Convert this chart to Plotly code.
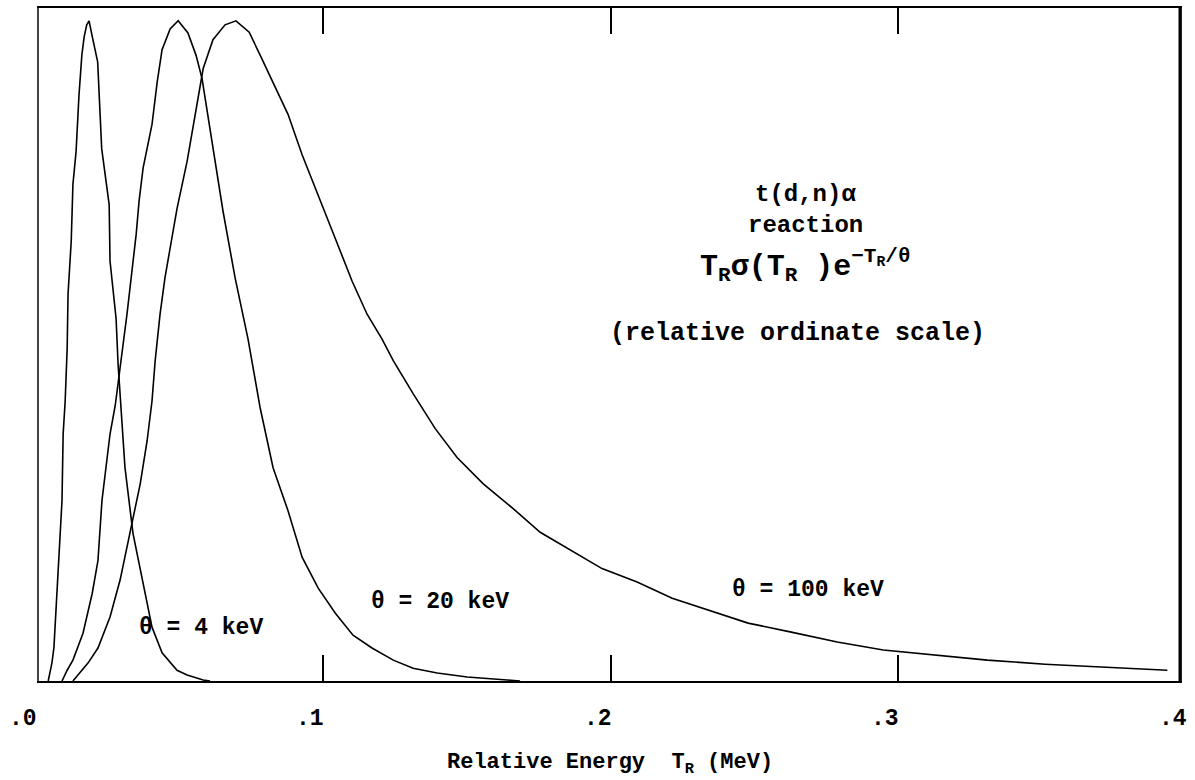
import plotly.graph_objects as go

# theta = 4 keV
x4 = [0.0044, 0.0057, 0.0064, 0.0075, 0.0085, 0.0092, 0.0096, 0.0103, 0.0110, 0.0113,
      0.0124, 0.0130, 0.0141, 0.0151, 0.0161, 0.0169, 0.0178, 0.0186, 0.0199, 0.0216,
      0.0230, 0.0256, 0.0259, 0.0280, 0.0287, 0.0297, 0.0311, 0.0339, 0.0374, 0.0405,
      0.0440, 0.0492, 0.0527, 0.0583, 0.0607]
y4 = [0.0, 0.027, 0.050, 0.139, 0.219, 0.268, 0.367, 0.416, 0.495, 0.575,
      0.653, 0.738, 0.787, 0.870, 0.930, 0.957, 0.975, 0.981, 0.954, 0.920,
      0.791, 0.708, 0.624, 0.539, 0.471, 0.402, 0.317, 0.219, 0.145, 0.080,
      0.042, 0.016, 0.009, 0.0015, 0.0]

# theta = 20 keV
x20 = [0.0092, 0.0110, 0.0130, 0.0165, 0.0197, 0.0217, 0.0231, 0.0259, 0.0277, 0.0318,
       0.0350, 0.0360, 0.0374, 0.0405, 0.0423, 0.0440, 0.0468, 0.0496, 0.0530, 0.0558,
       0.0579, 0.0617, 0.0652, 0.0694, 0.0739, 0.0781, 0.0826, 0.0878, 0.0927, 0.0983,
       0.1042, 0.1104, 0.1170, 0.1244, 0.1313, 0.1397, 0.1501, 0.1640, 0.1685]
y20 = [0.0, 0.016, 0.031, 0.071, 0.130, 0.179, 0.268, 0.367, 0.409, 0.545,
       0.664, 0.713, 0.762, 0.827, 0.890, 0.938, 0.969, 0.981, 0.963, 0.930,
       0.895, 0.791, 0.698, 0.599, 0.508, 0.406, 0.317, 0.253, 0.184, 0.138,
       0.101, 0.068, 0.049, 0.031, 0.019, 0.012, 0.006, 0.0015, 0.0]

# theta = 100 keV
x100 = [0.0130, 0.0148, 0.0183, 0.0217, 0.0259, 0.0294, 0.0329, 0.0364, 0.0388, 0.0405,
        0.0416, 0.0433, 0.0450, 0.0468, 0.0492, 0.0527, 0.0537, 0.0583, 0.0617, 0.0659,
        0.0697, 0.0743, 0.0781, 0.0826, 0.0878, 0.0927, 0.0979, 0.1042, 0.1101, 0.1153,
        0.1205, 0.1244, 0.1313, 0.1390, 0.1466, 0.1557, 0.1661, 0.1755, 0.1970, 0.2092,
        0.2214, 0.2346, 0.2478, 0.2624, 0.2788, 0.2948, 0.3122, 0.3310, 0.3511, 0.3703,
        0.3936]
y100 = [0.0, 0.009, 0.027, 0.049, 0.095, 0.150, 0.219, 0.293, 0.357, 0.416,
        0.476, 0.545, 0.599, 0.643, 0.702, 0.772, 0.797, 0.910, 0.953, 0.975,
        0.981, 0.964, 0.930, 0.890, 0.842, 0.782, 0.727, 0.658, 0.594, 0.545,
        0.508, 0.476, 0.427, 0.375, 0.332, 0.293, 0.256, 0.221, 0.167, 0.147,
        0.123, 0.105, 0.086, 0.073, 0.058, 0.046, 0.039, 0.031, 0.025, 0.021,
        0.016]

tick_vals = [0.0, 0.1, 0.2, 0.3, 0.4]
tick_text = [".0", ".1", ".2", ".3", ".4"]

FONT = "Liberation Mono, Courier New, monospace"
X_RANGE = [0.0012, 0.398]

fig = go.Figure()
for xs, ys in [(x4, y4), (x20, y20), (x100, y100)]:
    fig.add_trace(go.Scatter(x=xs, y=ys, mode="lines",
                             line=dict(color="black", width=1.6),
                             showlegend=False, hoverinfo="skip"))

fig.update_layout(
    width=1195, height=780,
    margin=dict(l=39, r=15, t=6, b=99),
    paper_bgcolor="white", plot_bgcolor="white",
    font=dict(family=FONT, size=22, color="black", weight="bold"),
    xaxis=dict(range=X_RANGE, showgrid=False, zeroline=False,
               tickvals=[0.1, 0.2, 0.3], showticklabels=False,
               ticks="inside", ticklen=26, tickwidth=2, tickcolor="black",
               showline=True, linecolor="black", linewidth=2, mirror="ticks"),
    yaxis=dict(range=[0, 1], showgrid=False, zeroline=False,
               showticklabels=False, ticks="",
               showline=True, linecolor="#444", linewidth=2, mirror=True),
)

# right border heavier
fig.add_shape(type="line", xref="paper", yref="paper", x0=1, x1=1, y0=0, y1=1,
              line=dict(color="black", width=3))

# tick labels (paper coords so .0 and .4 beyond the range still show)
span = X_RANGE[1] - X_RANGE[0]
for v, t in zip(tick_vals, tick_text):
    fig.add_annotation(x=(v - X_RANGE[0]) / span, y=-0.0563, xref="paper", yref="paper",
                       text=t, showarrow=False, xshift=-13, xanchor="center",
                       yanchor="middle", font=dict(size=23))

# axis title
fig.add_annotation(x=0.5, y=-0.124, xref="paper", yref="paper",
                   text="Relative Energy  T<sub>R</sub> (MeV)", xanchor="center",
                   showarrow=False, yanchor="middle", font=dict(size=22))

# curve labels
fig.add_annotation(x=0.0576, y=0.0785, text="θ = 4 keV", showarrow=False,
                   font=dict(size=23))
fig.add_annotation(x=0.1407, y=0.117, text="θ = 20 keV", showarrow=False,
                   font=dict(size=23))
fig.add_annotation(x=0.2687, y=0.135, text="θ = 100 keV", showarrow=False,
                   font=dict(size=23))

# reaction block
fig.add_annotation(x=0.2677, y=0.723, text="t(d,n)α", showarrow=False,
                   font=dict(size=24))
fig.add_annotation(x=0.2677, y=0.677, text="reaction", showarrow=False,
                   font=dict(size=24))
fig.add_annotation(x=0.2677, y=0.616,
                   text="T<sub>R</sub>σ(T<sub>R</sub> )e<sup>−T<sub>R</sub>/θ</sup>",
                   showarrow=False, font=dict(size=30))
fig.add_annotation(x=0.265, y=0.517, text="(relative ordinate scale)",
                   showarrow=False, font=dict(size=25))

fig.write_html("out.html")
